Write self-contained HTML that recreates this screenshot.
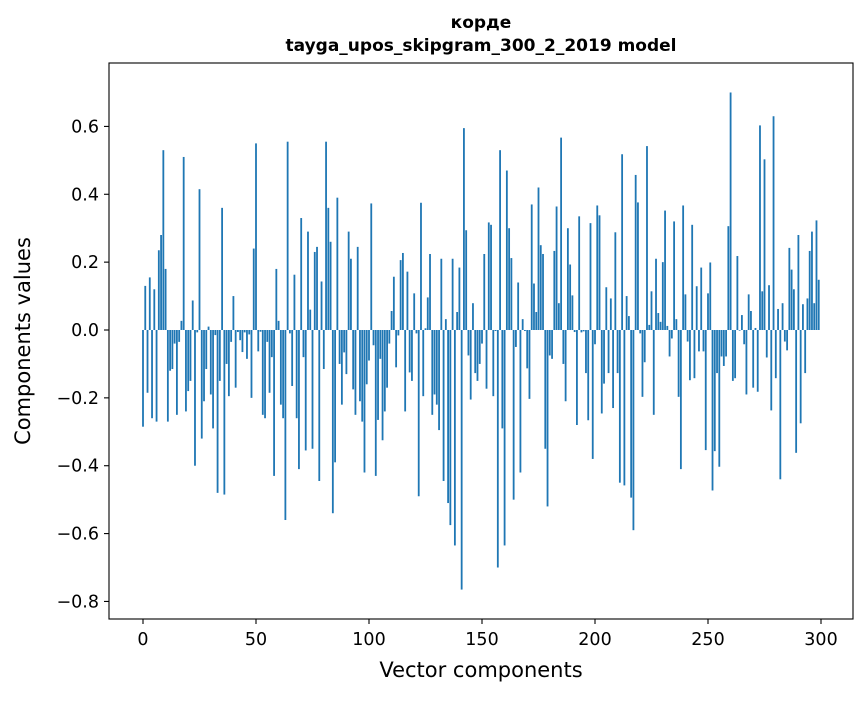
<!DOCTYPE html>
<html><head><meta charset="utf-8"><style>
body{margin:0;background:#fff;}
svg text{font-family:"DejaVu Sans","Liberation Sans",sans-serif;}
</style></head><body>
<svg id="chart" width="867" height="696" xmlns="http://www.w3.org/2000/svg">
<rect width="867" height="696" fill="#fff"/>
<text x="481" y="28" text-anchor="middle" font-size="17" font-weight="bold">корде</text>
<text x="481" y="51" text-anchor="middle" font-size="17" font-weight="bold">tayga_upos_skipgram_300_2_2019 model</text>
<g id="bars"></g>
<g id="axes"></g>
<rect x="109" y="63" width="744" height="556" fill="none" stroke="#000" stroke-width="1.1"/>
<text x="481" y="677" text-anchor="middle" font-size="21">Vector components</text>
<text transform="translate(30,341) rotate(-90)" text-anchor="middle" font-size="21">Components values</text>
</svg>
<script>
const values = [
-0.285,0.13,-0.185,0.155,-0.26,0.12,-0.27,0.235,0.28,0.53,
0.18,-0.27,-0.12,-0.115,-0.04,-0.25,-0.035,0.027,0.51,-0.24,
-0.18,-0.15,0.087,-0.40,-0.007,0.415,-0.32,-0.21,-0.115,0.01,
-0.19,-0.29,-0.015,-0.48,-0.15,0.36,-0.485,-0.10,-0.195,-0.035,
0.10,-0.17,-0.006,-0.03,-0.065,-0.007,-0.085,-0.013,-0.20,0.24,
0.55,-0.063,-0.005,
-0.25,-0.26,-0.035,-0.185,-0.08,-0.43,0.18,0.027,-0.22,-0.26,
-0.56,0.555,-0.01,-0.165,0.163,-0.26,-0.41,0.33,-0.08,-0.355,
0.29,0.06,-0.35,0.23,0.245,-0.445,0.143,-0.115,0.555,0.36,
0.26,-0.54,-0.39,0.39,-0.10,-0.22,-0.066,-0.13,0.29,0.21,
-0.175,-0.25,0.245,-0.21,-0.27,-0.42,
-0.16,-0.09,0.373,-0.045,-0.43,-0.265,-0.085,-0.325,-0.24,-0.17,
-0.04,0.056,0.157,-0.11,-0.016,0.206,0.227,-0.24,0.172,-0.125,
-0.15,0.108,-0.01,-0.49,0.375,-0.195,0.005,0.096,0.224,-0.25,
-0.19,-0.22,-0.295,0.21,-0.445,0.032,-0.51,-0.575,0.21,-0.635,
0.053,0.184,-0.765,0.595,0.294,-0.075,-0.205,0.079,-0.127,-0.15,
-0.10,-0.04,0.224,-0.173,0.317,0.31,-0.195,-0.003,-0.70,0.53,
-0.29,-0.635,0.47,0.30,0.212,-0.50,-0.05,0.14,-0.42,0.032,
-0.003,-0.113,-0.203,0.37,0.137,0.053,0.42,0.25,0.224,-0.35,
-0.52,-0.075,-0.085,0.233,0.364,0.079,0.567,-0.10,-0.21,0.30,
0.193,0.102,-0.006,-0.28,0.335,-0.007,-0.004,-0.127,-0.266,
0.315,-0.38,-0.042,0.367,0.338,-0.246,-0.158,0.126,-0.127,0.093,
-0.23,0.288,-0.127,-0.45,0.518,-0.458,0.10,0.041,-0.494,-0.59,
0.457,0.376,-0.01,-0.197,-0.095,0.542,0.015,0.114,-0.25,0.21,
0.05,0.024,0.20,0.352,0.012,-0.078,-0.025,0.32,0.032,-0.197,
-0.41,0.367,0.105,-0.034,-0.148,0.31,-0.142,0.129,-0.063,0.184,
-0.063,-0.354,0.108,0.199,-0.473,-0.357,-0.127,-0.403,-0.078,-0.106,
-0.078,0.306,0.70,-0.15,-0.142,0.218,-0.002,0.044,-0.042,-0.19,
0.105,0.056,-0.17,0.006,-0.182,0.603,0.114,0.503,-0.081,0.132,
-0.237,0.63,-0.142,0.062,-0.44,0.079,-0.034,-0.06,0.242,0.178,
0.12,-0.362,0.28,-0.275,0.076,-0.127,0.093,0.233,0.29,0.079,
0.323,0.148
];
const xTicks = [0,50,100,150,200,250,300];
const yTicks = [-0.8,-0.6,-0.4,-0.2,0.0,0.2,0.4,0.6];
const yTickLabels = ["\u22120.8","\u22120.6","\u22120.4","\u22120.2","0.0","0.2","0.4","0.6"];

const NS="http://www.w3.org/2000/svg";
function xScale(i){return 143+i*2.26;}
function yScale(v){return 330-v*339.3;}
const bw=2.26*0.8;
const bars=document.getElementById('bars');
values.forEach((v,i)=>{
  const r=document.createElementNS(NS,'rect');
  
  
  const y0=yScale(0), y1=yScale(v);
  r.setAttribute('x',xScale(i)-bw/2);
  r.setAttribute('y',Math.min(y0,y1));
  r.setAttribute('width',bw);
  r.setAttribute('height',Math.max(Math.abs(y1-y0),0.3));
  r.setAttribute('fill','#1f77b4');
  bars.appendChild(r);
});
const axes=document.getElementById('axes');
xTicks.forEach(t=>{
  const x=xScale(t);
  const l=document.createElementNS(NS,'line');
  
  
  l.setAttribute('x1',x);l.setAttribute('x2',x);l.setAttribute('y1',619);l.setAttribute('y2',624);
  l.setAttribute('stroke','#000');l.setAttribute('stroke-width','1.1');
  axes.appendChild(l);
  const tx=document.createElementNS(NS,'text');
  
  
  tx.setAttribute('x',x);tx.setAttribute('y',645);tx.setAttribute('text-anchor','middle');tx.setAttribute('font-size','17.5');
  tx.textContent=String(t);
  axes.appendChild(tx);
});
yTicks.forEach((t,k)=>{
  const y=yScale(t);
  const l=document.createElementNS(NS,'line');
  
  
  l.setAttribute('x1',104);l.setAttribute('x2',109);l.setAttribute('y1',y);l.setAttribute('y2',y);
  l.setAttribute('stroke','#000');l.setAttribute('stroke-width','1.1');
  axes.appendChild(l);
  const tx=document.createElementNS(NS,'text');
  
  
  tx.setAttribute('x',99);tx.setAttribute('y',y+6);tx.setAttribute('text-anchor','end');tx.setAttribute('font-size','17.5');
  tx.textContent=yTickLabels[k];
  axes.appendChild(tx);
});
</script>
</body></html>
